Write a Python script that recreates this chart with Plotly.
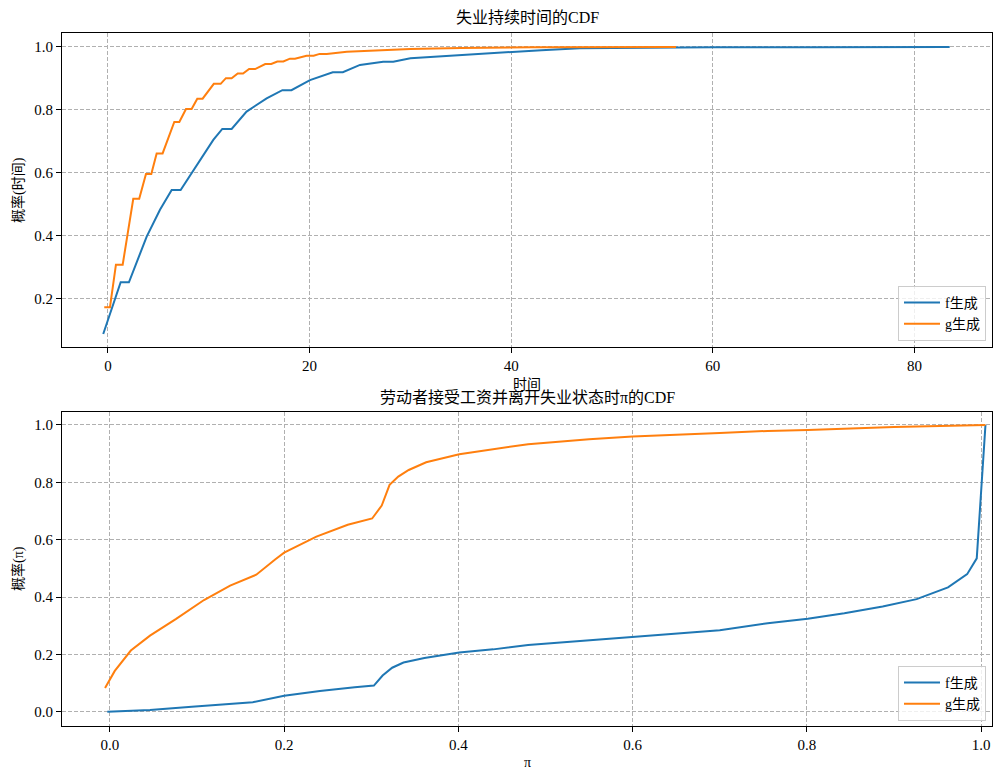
import plotly.graph_objects as go
from plotly.subplots import make_subplots

# --- unemployment duration CDF (top panel) ---
dur_f_x = [-0.47, 1.26, 2.08, 3.84, 5.16, 6.32, 7.21, 9.13, 10.45, 11.34, 12.27, 13.75, 15.74,
           17.3, 18.2, 20.04, 22.3, 23.3, 25.0, 27.3, 28.3, 30.0, 33.6, 37.0, 40.0, 43.0, 46.8,
           52.0, 60.0, 70.0, 83.5]
dur_f_y = [0.089, 0.253, 0.253, 0.398, 0.483, 0.546, 0.546, 0.641, 0.705, 0.74, 0.74, 0.795, 0.837,
           0.863, 0.863, 0.895, 0.92, 0.92, 0.943, 0.953, 0.953, 0.964, 0.971, 0.98, 0.985, 0.99, 0.9958,
           0.998, 0.999, 0.9995, 1.0]

dur_g_x = [-0.37, 0.2, 0.79, 1.46, 2.51, 3.1, 3.77, 4.3, 4.83, 5.42, 6.58, 7.08, 7.74, 8.3, 8.86,
           9.39, 10.5, 11.18, 11.7, 12.27, 12.87, 13.4, 14.0, 14.6, 15.6, 16.2, 16.8, 17.4, 18.05,
           18.55, 19.7, 20.4, 21.0, 21.7, 23.7, 27.0, 30.0, 35.0, 42.0, 56.35]
dur_g_y = [0.174, 0.174, 0.309, 0.309, 0.518, 0.518, 0.597, 0.597, 0.662, 0.662, 0.762, 0.762, 0.803,
           0.803, 0.836, 0.836, 0.883, 0.883, 0.901, 0.901, 0.916, 0.916, 0.930, 0.930, 0.946, 0.946,
           0.954, 0.954, 0.963, 0.963, 0.972, 0.972, 0.978, 0.978, 0.985, 0.990, 0.994, 0.997, 0.999, 1.0]

# --- CDF of pi when worker accepts a wage (bottom panel) ---
pi_f_x = [-0.003, 0.046, 0.094, 0.164, 0.2, 0.241, 0.281, 0.303, 0.313, 0.324, 0.337, 0.361, 0.401,
          0.44, 0.48, 0.6, 0.7, 0.755, 0.801, 0.843, 0.887, 0.926, 0.962, 0.984, 0.995, 1.005]
pi_f_y = [0.001, 0.007, 0.018, 0.034, 0.056, 0.073, 0.086, 0.092, 0.127, 0.154, 0.172, 0.188, 0.207,
          0.218, 0.233, 0.262, 0.285, 0.309, 0.325, 0.344, 0.367, 0.393, 0.434, 0.48, 0.535, 1.0]

pi_g_x = [-0.0056, 0.0056, 0.024, 0.046, 0.076, 0.108, 0.138, 0.168, 0.19, 0.2, 0.237, 0.273, 0.301,
          0.312, 0.321, 0.331, 0.343, 0.363, 0.401, 0.44, 0.48, 0.55, 0.6, 0.7, 0.755, 0.801, 0.9, 1.005]
pi_g_y = [0.083, 0.143, 0.214, 0.266, 0.324, 0.39, 0.44, 0.478, 0.532, 0.555, 0.611, 0.652, 0.674,
          0.719, 0.791, 0.82, 0.843, 0.87, 0.898, 0.916, 0.933, 0.95, 0.96, 0.972, 0.979, 0.982, 0.993, 1.0]

labels = ["f生成", "g生成"]
BLUE, ORANGE = "#1f77b4", "#ff7f0e"
FONT = "Liberation Serif, Noto Sans CJK SC, serif"

# page body has an 8px margin, so the figure is drawn 8px in from the corner
OFF = 8
W, H = 1001 - OFF, 779 - OFF


def px(v):
    return (v - OFF) / W


def py(v):
    return 1 - (v - OFF) / H


fig = make_subplots(rows=2, cols=1)

fig.add_trace(go.Scatter(x=dur_f_x, y=dur_f_y, mode="lines", name=labels[0],
                         line=dict(color=BLUE, width=2), legend="legend"), row=1, col=1)
fig.add_trace(go.Scatter(x=dur_g_x, y=dur_g_y, mode="lines", name=labels[1],
                         line=dict(color=ORANGE, width=2), legend="legend"), row=1, col=1)
fig.add_trace(go.Scatter(x=pi_f_x, y=pi_f_y, mode="lines", name=labels[0],
                         line=dict(color=BLUE, width=2), legend="legend2"), row=2, col=1)
fig.add_trace(go.Scatter(x=pi_g_x, y=pi_g_y, mode="lines", name=labels[1],
                         line=dict(color=ORANGE, width=2), legend="legend2"), row=2, col=1)

axis_style = dict(showline=True, linecolor="black", linewidth=1, mirror=True,
                  ticks="outside", ticklen=5, tickcolor="black", tickwidth=1,
                  showgrid=True, gridcolor="#b0b0b0", griddash="4px,2px", gridwidth=1,
                  zeroline=False, tickfont=dict(family=FONT, size=15, color="black"))

fig.update_xaxes(axis_style)
fig.update_yaxes(axis_style)
fig.update_xaxes(domain=[px(62), px(992)], range=[-4.56, 87.7], tickvals=[0, 20, 40, 60, 80], row=1, col=1)
fig.update_yaxes(domain=[py(347), py(33)], range=[0.0476, 1.0444],
                 tickvals=[0.2, 0.4, 0.6, 0.8, 1.0], tickformat=".1f", row=1, col=1)
fig.update_xaxes(domain=[px(62), px(992)], range=[-0.055, 1.0125], tickvals=[0, 0.2, 0.4, 0.6, 0.8, 1.0],
                 tickformat=".1f", row=2, col=1)
fig.update_yaxes(domain=[py(726), py(412)], range=[-0.049, 1.045],
                 tickvals=[0, 0.2, 0.4, 0.6, 0.8, 1.0], tickformat=".1f", row=2, col=1)

legend_style = dict(bgcolor="rgba(255,255,255,0.8)", bordercolor="#cccccc", borderwidth=1,
                    font=dict(family=FONT, size=14, color="black"),
                    xanchor="right", yanchor="bottom", x=px(986), itemwidth=36)
fig.update_layout(
    width=W, height=H,
    margin=dict(l=0, r=0, t=0, b=0),
    plot_bgcolor="white", paper_bgcolor="white",
    font=dict(family=FONT, size=14, color="black"),
    legend=dict(legend_style, y=py(341)),
    legend2=dict(legend_style, y=py(721)),
)

cx = (62 + 992) / 2
texts = [
    ("失业持续时间的CDF", cx, 18, 0, 16),
    ("时间", cx, 384, 0, 14),
    ("劳动者接受工资并离开失业状态时π的CDF", cx, 397, 0, 16),
    ("π", cx, 762, 0, 14),
    ("概率(时间)", 18, 190, -90, 14),
    ("概率(π)", 18, 569, -90, 14),
]
for t, x, y, ang, sz in texts:
    fig.add_annotation(text=t, x=px(x), y=py(y), xref="paper", yref="paper", showarrow=False,
                       textangle=ang, xanchor="center", yanchor="middle",
                       font=dict(family=FONT, size=sz, color="black"))

fig.write_html("out.html")
